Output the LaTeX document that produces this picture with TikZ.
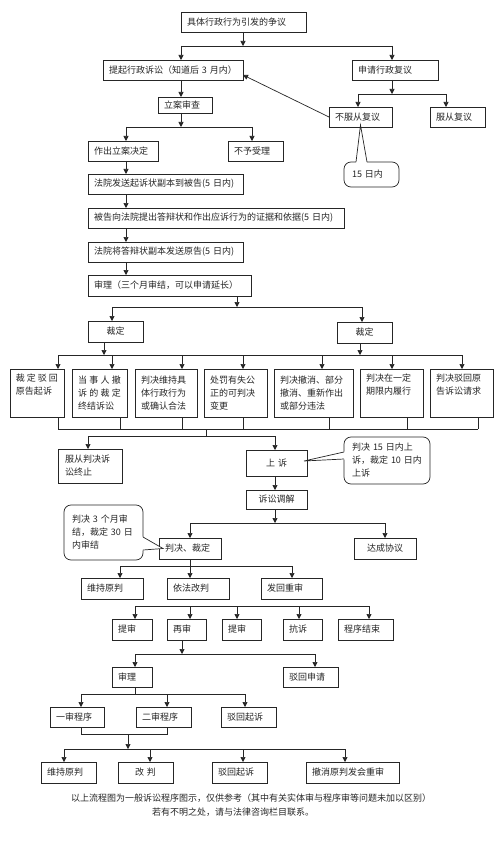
\documentclass[tikz,border=0pt]{standalone}
\usepackage{fontspec}
\setmainfont{Noto Sans CJK SC}
\usetikzlibrary{arrows.meta,calc}
\newcommand\mybox[7][]{%
  \pgfmathsetmacro\bxw{#4-#2}%
  \pgfmathsetmacro\bxh{#5-#3}%
  \pgfmathsetmacro\bxt{#4-#2-12}%
  \node[box,minimum width=\bxw pt,minimum height=\bxh pt,text width=\bxt pt,anchor=north west,#1] (#6) at (#2,#3) {#7};}
\begin{document}
\begin{tikzpicture}[x=1pt,y=-1pt,line width=0.7pt,color=black!85,
  box/.style={draw, line width=0.7pt, inner xsep=6pt, inner ysep=0pt, outer sep=0pt,
    font=\fontsize{9pt}{13pt}\selectfont, align=left},
  cbox/.style={draw, rounded corners=7pt, inner xsep=8pt, inner ysep=0pt, outer sep=0pt,
    font=\fontsize{9pt}{13pt}\selectfont, align=left, anchor=north west},
  arr/.style={-{Triangle[length=5pt,width=5pt]}},
  foot/.style={font=\fontsize{9pt}{11pt}\selectfont, inner sep=0pt}]
\fill[white] (0,0) rectangle (500,845);
\useasboundingbox (0,0) rectangle (500,845);

% ---------- boxes ----------
\mybox{181}{12}{306}{32}{n0}{具体行政行为引发的争议}
\mybox{103}{60}{243}{80}{n1}{提起行政诉讼（知道后~3~月内）}
\mybox{352}{60}{438}{80}{n2}{申请行政复议}
\mybox{329}{107}{392}{127}{n3}{不服从复议}
\mybox{430}{107}{485}{127}{n4}{服从复议}
\mybox{158}{97}{212}{113}{n5}{立案审查}
\mybox{88}{141}{158}{161}{n6}{作出立案决定}
\mybox{228}{141}{283}{161}{n7}{不予受理}
\mybox{88}{174}{243}{194}{n8}{法院发送起诉状副本到被告(5~日内)}
\mybox{88}{208}{344}{228}{n9}{被告向法院提出答辩状和作出应诉行为的证据和依据(5~日内)}
\mybox{88}{242}{243}{262}{n10}{法院将答辩状副本发送原告(5~日内)}
\mybox{88}{275}{251}{296}{n11}{审理（三个月审结，可以申请延长）}
\mybox[align=center]{88}{321}{143}{342}{n12}{裁定}
\mybox[align=center]{337}{322}{392}{343}{n13}{裁定}

\mybox[inner xsep=5pt]{10}{369}{64}{417}{r1}{裁\hfill 定\hfill 驳\hfill 回\\原告起诉\\\strut}
\mybox{72}{369}{127}{417}{r2}{当\hfill 事\hfill 人\hfill 撤\\诉\hfill 的\hfill 裁\hfill 定\\终结诉讼}
\mybox{135}{369}{197}{417}{r3}{判决维持具\\体行政行为\\或确认合法}
\mybox{204}{369}{267}{417}{r4}{处罚有失公\\正的可判决\\变更}
\mybox{274}{369}{353}{417}{r5}{判决撤消、部分\\撤消、重新作出\\或部分违法}
\mybox{360}{369}{423}{417}{r6}{判决在一定\\期限内履行\\\strut}
\mybox{430}{369}{493}{417}{r7}{判决驳回原\\告诉讼请求\\\strut}

\mybox[inner xsep=7pt]{58}{449}{120}{483}{n14}{服从判决诉\\讼终止}
\mybox[align=center]{246}{450}{307}{476}{n15}{上~诉}
\mybox[align=center]{246}{490}{307}{509}{n16}{诉讼调解}
\mybox{159}{538}{221}{559}{n17}{判决、裁定}
\mybox[align=center]{354}{538}{416}{559}{n18}{达成协议}
\mybox{81}{578}{143}{599}{n19}{维持原判}
\mybox{167}{578}{229}{599}{n20}{依法改判}
\mybox{261}{578}{322}{599}{n21}{发回重审}
\mybox{112}{619}{152}{640}{n22}{提审}
\mybox{167}{619}{206}{640}{n23}{再审}
\mybox{222}{619}{261}{640}{n24}{提审}
\mybox{283}{619}{322}{640}{n25}{抗诉}
\mybox{338}{619}{393}{640}{n26}{程序结束}
\mybox{112}{667}{152}{687}{n27}{审理}
\mybox{283}{667}{338}{687}{n28}{驳回申请}
\mybox{50}{707}{104}{727}{n29}{一审程序}
\mybox{136}{707}{191}{727}{n30}{二审程序}
\mybox{221}{707}{276}{727}{n31}{驳回起诉}
\mybox{41}{762}{96}{783}{n32}{维持原判}
\mybox[align=center]{118}{762}{173}{783}{n33}{改~判}
\mybox{212}{762}{267}{783}{n34}{驳回起诉}
\mybox{306}{762}{399}{783}{n35}{撤消原判发会重审}

% ---------- callouts ----------
\node[cbox, minimum width=55pt, minimum height=25pt, text width=39pt] (c1) at (344,162) {15~日内};
\coordinate (p1) at ($(n3.south)+(0,-2)$);
\fill[white] (356,163) -- (p1) -- (367,163) -- cycle;
\draw (356,162) -- (p1) -- (367,162);

\node[cbox, minimum width=86pt, minimum height=47pt, text width=70pt] (c2) at (344,437) {判决~15~日内上\\诉，裁定~10~日内\\上诉};
\coordinate (p2) at ($(n15.east)+(-3,-2)$);
\fill[white] (345,451.5) -- (p2) -- (345,459.5) -- cycle;
\draw (344,452) -- (p2) -- (344,459);

\node[cbox, minimum width=79pt, minimum height=55pt, text width=63pt] (c3) at (64,505) {判决~3~个月审\\结，裁定~30~日\\内审结};
\coordinate (p3) at ($(n17.west)+(4,0)$);
\fill[white] (142,536.5) -- (p3) -- (142,550.5) -- cycle;
\draw (143,537) -- (p3) -- (143,550);

% ---------- connectors ----------
\coordinate (b0l) at (181,46); \coordinate (b0r) at (392,46); \coordinate (s0) at (243,46);
\draw[arr] (s0 |- n0.south) -- (s0);
\draw (b0l) -- (b0r);
\draw[arr] (b0l) -- (b0l |- n1.north);
\draw[arr] (b0r) -- (b0r |- n2.north);

\coordinate (b1l) at (358,94); \coordinate (b1r) at (446,94); \coordinate (s1) at (392,94);
\draw[arr] (s1 |- n2.south) -- (s1);
\draw (b1l) -- (b1r);
\draw[arr] (b1l) -- (b1l |- n3.north);
\draw[arr] (b1r) -- (b1r |- n4.north);

\draw[arr] (n3.west) -- ([yshift=-5pt]n1.east);

\coordinate (x2) at (181,0);
\draw[arr] (x2 |- n1.south) -- (x2 |- n5.north);

\coordinate (b3l) at (126,127); \coordinate (b3r) at (252,127); \coordinate (s3) at (181,127);
\draw[arr] (s3 |- n5.south) -- (s3);
\draw (b3l) -- (b3r);
\draw[arr] (b3l) -- (b3l |- n6.north);
\draw[arr] (b3r) -- (b3r |- n7.north);

\coordinate (x4) at (126,0);
\draw[arr] (x4 |- n6.south) -- (x4 |- n8.north);
\draw[arr] (x4 |- n8.south) -- (x4 |- n9.north);
\draw[arr] (x4 |- n9.south) -- (x4 |- n10.north);
\draw[arr] (x4 |- n10.south) -- (x4 |- n11.north);

\coordinate (b5l) at (112,307); \coordinate (b5r) at (362,307); \coordinate (s5) at (237,307);
\draw[arr] (s5 |- n11.south) -- (s5);
\draw (b5l) -- (b5r);
\draw[arr] (b5l) -- (b5l |- n12.north);
\draw[arr] (b5r) -- (b5r |- n13.north);

\coordinate (b6l) at (58,355); \coordinate (b6r) at (462,355);
\coordinate (s6a) at (104,355); \coordinate (s6b) at (360,355);
\draw[arr] (s6a |- n12.south) -- (s6a);
\draw[arr] (s6b |- n13.south) -- (s6b);
\draw (b6l) -- (b6r);
\foreach \x/\n in {58/r1,112/r2,182/r3,243/r4,322/r5,392/r6,462/r7}
  {\coordinate (t) at (\x,355); \draw[arr] (t) -- (t |- \n.north);}

\coordinate (b7l) at (58,429); \coordinate (b7r) at (478,429);
\draw (b7l) -- (b7r);
\foreach \x/\n in {58/r1,120/r2,182/r3,243/r4,329/r5,407/r6,478/r7}
  {\coordinate (t) at (\x,429); \draw (t |- \n.south) -- (t);}

\coordinate (j7) at (206,429); \coordinate (j8) at (206,436);
\draw (j7) -- (j8);
\coordinate (b8l) at (88,436); \coordinate (b8r) at (275,436);
\draw (b8l) -- (b8r);
\draw[arr] (b8l) -- (b8l |- n14.north);
\draw[arr] (b8r) -- (b8r |- n15.north);

\coordinate (x9) at (275,0);
\draw[arr] (x9 |- n15.south) -- (x9 |- n16.north);

\coordinate (b10l) at (190,523); \coordinate (b10r) at (385,523); \coordinate (s10) at (275,523);
\draw[arr] (s10 |- n16.south) -- (s10);
\draw (b10l) -- (b10r);
\draw[arr] (b10l) -- (b10l |- n17.north);
\draw[arr] (b10r) -- (b10r |- n18.north);

\coordinate (b11l) at (120,566); \coordinate (b11r) at (292,566); \coordinate (s11) at (190,566);
\draw (s11 |- n17.south) -- (s11);
\draw (b11l) -- (b11r);
\draw[arr] (b11l) -- (b11l |- n19.north);
\draw[arr] (s11) -- (s11 |- n20.north);
\draw[arr] (b11r) -- (b11r |- n21.north);

\coordinate (b12l) at (135,606); \coordinate (b12r) at (369,606);
\draw (b12l) -- (b12r);
\foreach \x/\n in {135/n22,190/n23,237/n24,299/n25,369/n26}
  {\coordinate (t) at (\x,606); \draw[arr] (t) -- (t |- \n.north);}

\coordinate (b13l) at (135,654); \coordinate (b13r) at (315,654); \coordinate (s13) at (182,654);
\draw[arr] (s13 |- n23.south) -- (s13);
\draw (b13l) -- (b13r);
\draw[arr] (b13l) -- (b13l |- n27.north);
\draw[arr] (b13r) -- (b13r |- n28.north);

\coordinate (b14l) at (81,694); \coordinate (b14r) at (245,694); \coordinate (s14) at (135,694);
\coordinate (b14m) at (167,694);
\draw (s14 |- n27.south) -- (s14);
\draw (b14l) -- (b14r);
\draw[arr] (b14l) -- (b14l |- n29.north);
\draw[arr] (b14m) -- (b14m |- n30.north);
\draw[arr] (b14r) -- (b14r |- n31.north);

\coordinate (j15l) at (81,734); \coordinate (j15r) at (167,734);
\draw (j15l |- n29.south) -- (j15l) -- (j15r) -- (j15r |- n30.south);
\coordinate (s15a) at (128,734); \coordinate (s15) at (128,749);
\draw[arr] (s15a) -- (s15);
\coordinate (b15l) at (64,749); \coordinate (b15r) at (345,749);
\draw (b15l) -- (b15r);
\foreach \x/\n in {64/n32,150/n33,243/n34,345/n35}
  {\coordinate (t) at (\x,749); \draw[arr] (t) -- (t |- \n.north);}

% ---------- footer ----------
\node[foot] (f1) at (251,798) {以上流程图为一般诉讼程序图示，仅供参考（其中有关实体审与程序审等问题未加以区别）};
\node[foot] (f2) at (233,812) {若有不明之处，请与法律咨询栏目联系。};
\end{tikzpicture}
\end{document}
